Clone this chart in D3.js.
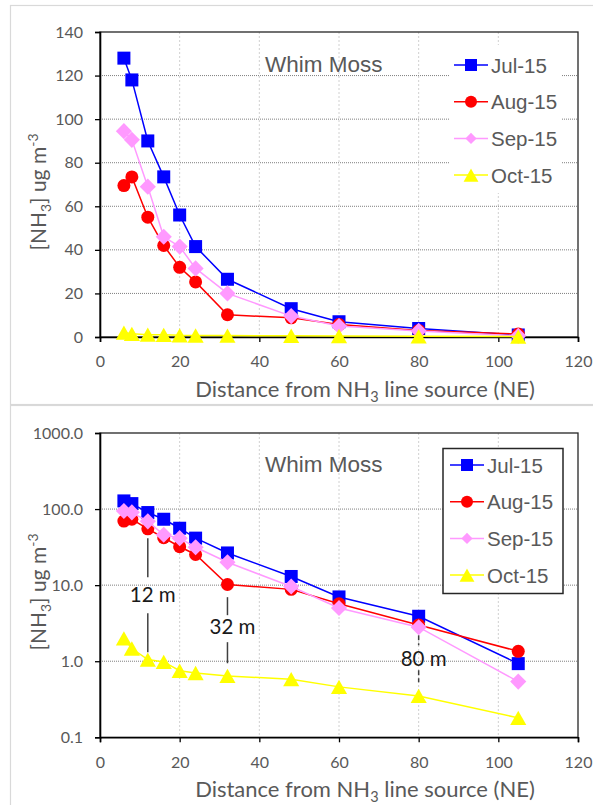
<!DOCTYPE html>
<html><head><meta charset="utf-8">
<script src="https://cdn.jsdelivr.net/npm/d3@7"></script>
<style>body{margin:0;background:#fff}svg{display:block}</style>
</head><body>
<svg id="c" width="593" height="805"></svg>
<script>
// ---- data ----
const distances = [6, 8, 12, 16, 20, 24, 32, 48, 60, 80, 105];
const seriesNames = ["Jul-15", "Aug-15", "Sep-15", "Oct-15"];
const jul = [128, 118, 90, 73.5, 56, 41.5, 26.5, 13, 7, 3.9, 0.93];
const aug = [69.5, 73.5, 55, 42, 32, 25.3, 10.2, 8.8, 5.7, 3.0, 1.35];
const sep = [94.5, 90.5, 69, 46, 41.5, 31.5, 20, 9.6, 5.0, 2.8, 0.54];
const oct = [2.0, 1.47, 1.05, 0.98, 0.75, 0.7, 0.64, 0.58, 0.46, 0.35, 0.18];
const xTicks = [0, 20, 40, 60, 80, 100, 120];
const yTicksLin = [0, 20, 40, 60, 80, 100, 120, 140];
const yTicksLog = [0.1, 1, 10, 100, 1000];
const chartTitle = "Whim Moss";
// annotations (data units): x, line1 top/bottom, text baseline, line2 top/bottom
const annotLabels = ["12 m", "32 m", "80 m"];
const annotX = [12, 32, 80];
const annotLine1 = [[41.5, 12.7], [6.95, 4.03], [2.2, 1.62]];
const annotTextY = [6.0, 2.27, 0.87];
const annotLine2 = [[4.28, 1.31], [1.78, 0.94], [0.76, 0.53]];
const annotDashed = [false, false, true];

const colors = ["#0000FF", "#FF0000", "#FF99FF", "#FFFF00"];
const shapes = ["square", "circle", "diamond", "triangle"];
const allSeries = [jul, aug, sep, oct];

const svg = d3.select("#c");
const tickFont = "Lato, 'Open Sans', sans-serif";
const armFont = "'Liberation Sans', Arial, sans-serif";
const grey = "#595959";

function marker(g, shape, color, cx, cy, s) {
  if (shape === "square") {
    g.append("rect").attr("x", cx - s/2).attr("y", cy - s/2).attr("width", s).attr("height", s).attr("fill", color);
  } else if (shape === "circle") {
    g.append("circle").attr("cx", cx).attr("cy", cy).attr("r", s/2).attr("fill", color);
  } else if (shape === "diamond") {
    const h = s * 0.62;
    g.append("path").attr("d", `M${cx},${cy-h}L${cx+h},${cy}L${cx},${cy+h}L${cx-h},${cy}Z`).attr("fill", color);
  } else {
    const w = s * 0.62, hh = s * 0.55;
    g.append("path").attr("d", `M${cx},${cy-hh}L${cx+w},${cy+hh}L${cx-w},${cy+hh}Z`).attr("fill", color);
  }
}

function drawChart(opt) {
  const g = svg.append("g");
  // outer frame
  g.append("rect").attr("x", 10.5).attr("y", opt.frameTop + 0.5).attr("width", 600).attr("height", opt.frameH)
    .attr("fill", "#fff").attr("stroke", "#d9d9d9").attr("stroke-width", 1.2);

  const x = d3.scaleLinear().domain([0, 120]).range([100, 578]);
  const y = opt.log
    ? d3.scaleLog().domain([0.1, 1000]).range([opt.bottom, opt.top])
    : d3.scaleLinear().domain([0, 140]).range([opt.bottom, opt.top]);
  const yTicks = opt.log ? yTicksLog : yTicksLin;

  // vertical gridlines
  g.append("g").selectAll("line").data(xTicks.slice(1, -1)).join("line")
    .attr("x1", d => x(d)).attr("x2", d => x(d)).attr("y1", opt.top).attr("y2", opt.bottom)
    .attr("stroke", "#d0d0d0").attr("stroke-width", 1).attr("stroke-dasharray", "2,2");
  // horizontal gridlines
  g.append("g").selectAll("line").data(yTicks.slice(1, -1)).join("line")
    .attr("x1", x(0)).attr("x2", x(120)).attr("y1", d => y(d)).attr("y2", d => y(d))
    .attr("stroke", "#7f7f7f").attr("stroke-width", 1).attr("stroke-dasharray", "1,1");
  // plot border
  g.append("rect").attr("x", x(0)).attr("y", opt.top).attr("width", x(120) - x(0)).attr("height", opt.bottom - opt.top)
    .attr("fill", "none").attr("stroke", "#262626").attr("stroke-width", 1.3);

  // axes
  const xa = g.append("g").attr("transform", `translate(0,${opt.bottom})`)
    .call(d3.axisBottom(x).tickValues(xTicks).tickSize(5).tickPadding(14).tickFormat(d3.format("d")));
  const ya = g.append("g").attr("transform", `translate(${x(0)},0)`)
    .call(d3.axisLeft(y).tickValues(yTicks).tickSize(5).tickPadding(12)
      .tickFormat(opt.log ? d3.format(".1f") : d3.format("d")));
  [xa, ya].forEach(a => {
    a.select(".domain").attr("stroke", "#000").attr("stroke-width", 1.6);
    a.selectAll(".tick line").attr("stroke", "#000").attr("stroke-width", 1.3);
    a.selectAll("text").attr("fill", grey).style("font-family", tickFont).style("font-size", "16px");
  });

  // title
  g.append("text").attr("x", 265).attr("y", opt.titleY).text(chartTitle)
    .attr("fill", grey).style("font-family", armFont).style("font-size", "22.5px");

  // axis titles
  const xt = g.append("text").attr("x", 365).attr("y", opt.xTitleY).attr("text-anchor", "middle")
    .attr("fill", grey).style("font-family", tickFont).style("font-size", "22px");
  xt.append("tspan").text("Distance from NH");
  xt.append("tspan").text("3").style("font-size", "14.5px").attr("dy", 5);
  xt.append("tspan").text(" line source (NE)").attr("dy", -5);

  const yt = g.append("text").attr("transform", `translate(46,${opt.yTitleC}) rotate(-90)`).attr("text-anchor", "middle")
    .attr("fill", grey).style("font-family", tickFont).style("font-size", "21px");
  yt.append("tspan").text("[NH");
  yt.append("tspan").text("3").style("font-size", "14px").attr("dy", 5);
  yt.append("tspan").text("] ug m").attr("dy", -5);
  yt.append("tspan").text("-3").style("font-size", "14px").attr("dy", -8);

  // annotations (bottom chart)
  if (opt.log) {
    const an = g.append("g");
    annotLabels.forEach((lab, i) => {
      [annotLine1[i], annotLine2[i]].forEach(seg => {
        an.append("line").attr("x1", x(annotX[i])).attr("x2", x(annotX[i]))
          .attr("y1", y(seg[0])).attr("y2", y(seg[1]))
          .attr("stroke", "#404040").attr("stroke-width", 1.5)
          .attr("stroke-dasharray", annotDashed[i] ? "5,3" : null);
      });
      an.append("text").attr("x", x(annotX[i]) + 5).attr("y", y(annotTextY[i])).attr("text-anchor", "middle")
        .text(lab).attr("fill", "#1a1a1a").style("font-family", tickFont).style("font-size", "20.5px");
    });
  }

  // series
  const line = d3.line().x((d, i) => x(distances[i])).y(d => y(d));
  allSeries.forEach((vals, si) => {
    const sg = g.append("g");
    sg.append("path").datum(vals).attr("d", line).attr("fill", "none")
      .attr("stroke", colors[si]).attr("stroke-width", 1.5);
    vals.forEach((v, i) => marker(sg, shapes[si], colors[si], x(distances[i]), y(v), 13));
  });

  // legend
  const lg = g.append("g");
  if (opt.log) {
    lg.append("rect").attr("x", 443).attr("y", opt.legendTop).attr("width", 120).attr("height", 145)
      .attr("fill", "#fff").attr("stroke", "#262626").attr("stroke-width", 1.5);
  } else {
    lg.append("rect").attr("x", 449).attr("y", opt.legendTop).attr("width", 113).attr("height", 148).attr("fill", "#fff");
  }
  seriesNames.forEach((nm, i) => {
    const cy = opt.legendRow0 + i * 36.7;
    lg.append("line").attr("x1", opt.legLineX0).attr("x2", opt.legLineX0 + 34).attr("y1", cy).attr("y2", cy)
      .attr("stroke", colors[i]).attr("stroke-width", 1.5);
    const ms = shapes[i] === "diamond" ? 9 : 12;
    marker(lg, shapes[i], colors[i], opt.legLineX0 + 17, cy, ms);
    lg.append("text").attr("x", opt.legLineX0 + 37).attr("y", cy + 7.5).text(nm)
      .attr("fill", grey).style("font-family", armFont).style("font-size", "20.5px");
  });
}

drawChart({ log: false, frameTop: 5, frameH: 399, top: 32, bottom: 337, titleY: 72, xTitleY: 397, yTitleC: 192,
  legendTop: 45, legendRow0: 65, legLineX0: 454 });
drawChart({ log: true, frameTop: 405, frameH: 420, top: 433, bottom: 737.3, titleY: 472, xTitleY: 797, yTitleC: 592,
  legendTop: 448.5, legendRow0: 465, legLineX0: 450 });
</script>
</body></html>
